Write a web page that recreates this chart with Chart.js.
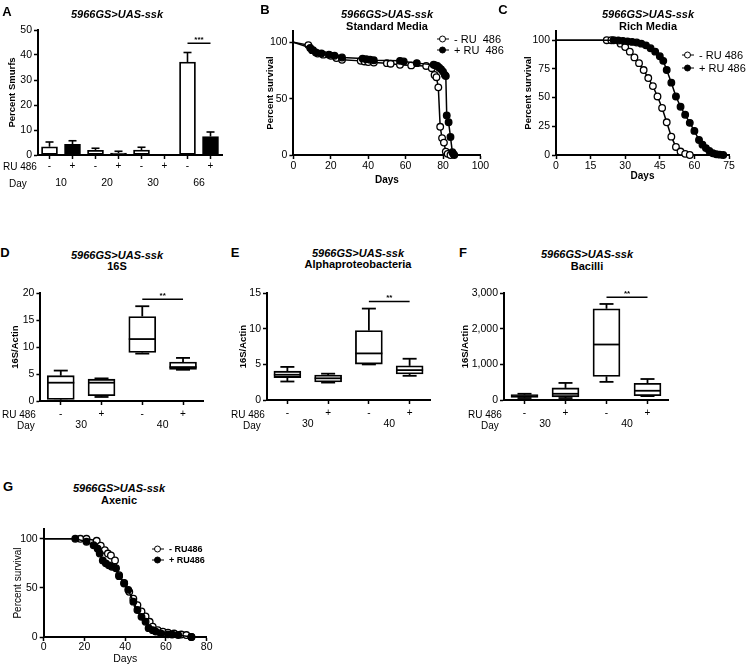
<!DOCTYPE html>
<html>
<head>
<meta charset="utf-8">
<script src="https://cdn.jsdelivr.net/npm/chart.js@4.4.1/dist/chart.umd.min.js"></script>
<style>
  body { margin: 0; width: 747px; height: 664px; overflow: hidden; background: #fff; position: relative;
         font-family: "Liberation Sans", Arial, sans-serif; color: #000; }
  .cv { position: absolute; }
  .t { position: absolute; white-space: pre; line-height: 1; transform: translate(-50%, -50%); }
  .tl { position: absolute; white-space: pre; line-height: 1; transform: translateY(-50%); }
  .it { font: italic bold 11px "Liberation Sans", Arial, sans-serif; }
  .sub { font: bold 11px "Liberation Sans", Arial, sans-serif; }
  .let { font: bold 13px "Liberation Sans", Arial, sans-serif; }
  .row { font: 10px "Liberation Sans", Arial, sans-serif; }
  .lg { position: absolute; display: flex; align-items: center; white-space: pre; line-height: 1; transform: translateY(-50%); }
  .mk { position: relative; width: 12px; height: 8px; margin-right: 5px; }
  .mk::before { content: ''; position: absolute; left: 0; right: 0; top: 3.5px; border-top: 1.5px solid #000; }
  .mk::after { content: ''; position: absolute; left: 2px; top: 0; width: 5px; height: 5px; border: 1.5px solid #000;
               border-radius: 50%; background: #fff; }
  .mk.fill::after { background: #000; }
</style>
</head>
<body>
<div class="cv" id="pA"><canvas id="cA"></canvas></div>
<div class="cv" id="pB"><canvas id="cB"></canvas></div>
<div class="cv" id="pC"><canvas id="cC"></canvas></div>
<div class="cv" id="pD"><canvas id="cD"></canvas></div>
<div class="cv" id="pE"><canvas id="cE"></canvas></div>
<div class="cv" id="pF"><canvas id="cF"></canvas></div>
<div class="cv" id="pG"><canvas id="cG"></canvas></div>

<div class="t let" style="left:7px;top:11px">A</div>
<div class="t let" style="left:265px;top:9px">B</div>
<div class="t let" style="left:503px;top:9px">C</div>
<div class="t let" style="left:5px;top:252px">D</div>
<div class="t let" style="left:235px;top:252px">E</div>
<div class="t let" style="left:463px;top:252px">F</div>
<div class="t let" style="left:8px;top:486px">G</div>

<div class="t it" style="left:117px;top:14px">5966GS&gt;UAS-ssk</div>
<div class="t it" style="left:387px;top:14px">5966GS&gt;UAS-ssk</div>
<div class="t sub" style="left:387px;top:26px">Standard Media</div>
<div class="t it" style="left:648px;top:14px">5966GS&gt;UAS-ssk</div>
<div class="t sub" style="left:648px;top:26px">Rich Media</div>
<div class="t it" style="left:117px;top:255px">5966GS&gt;UAS-ssk</div>
<div class="t sub" style="left:117px;top:266px">16S</div>
<div class="t it" style="left:358px;top:253px">5966GS&gt;UAS-ssk</div>
<div class="t sub" style="left:358px;top:264px">Alphaproteobacteria</div>
<div class="t it" style="left:587px;top:254px">5966GS&gt;UAS-ssk</div>
<div class="t sub" style="left:587px;top:266px">Bacilli</div>
<div class="t it" style="left:119px;top:488px">5966GS&gt;UAS-ssk</div>
<div class="t sub" style="left:119px;top:500px">Axenic</div>

<div class="tl row" style="left:3px;top:166px">RU 486</div>
<div class="tl row" style="left:9px;top:183px">Day</div>
<div class="tl row" style="left:2px;top:414px">RU 486</div>
<div class="tl row" style="left:17px;top:425px">Day</div>
<div class="tl row" style="left:231px;top:414px">RU 486</div>
<div class="tl row" style="left:243px;top:425px">Day</div>
<div class="tl row" style="left:468px;top:414px">RU 486</div>
<div class="tl row" style="left:481px;top:425px">Day</div>

<div class="lg" style="left:437px;top:39px;font-size:11px"><span class="mk"></span>- RU  486</div>
<div class="lg" style="left:437px;top:50px;font-size:11px"><span class="mk fill"></span>+ RU  486</div>
<div class="lg" style="left:682px;top:55px;font-size:11px"><span class="mk"></span>- RU 486</div>
<div class="lg" style="left:682px;top:68px;font-size:11px"><span class="mk fill"></span>+ RU 486</div>
<div class="lg" style="left:152px;top:549px;font-size:9px;font-weight:bold"><span class="mk"></span>- RU486</div>
<div class="lg" style="left:152px;top:560px;font-size:9px;font-weight:bold"><span class="mk fill"></span>+ RU486</div>

<script>
// ---- A: percent smurfs ----
const smurfRU = ['-', '+', '-', '+', '-', '+', '-', '+'];
const smurfDays = ['10', '20', '30', '66'];
const smurfMean = [3.3, 4.25, 1.9, 0.8, 2.0, 0, 37.2, 7.4];
const smurfErr = [1.9, 1.45, 0.8, 0.7, 1.1, 0, 3.8, 1.8];

// ---- B: survival, standard media ----
const bMinusDays = [0, 8, 10, 13, 16, 20, 23, 26, 36, 38, 40, 43, 50, 52, 57, 63, 71, 74, 75.5, 76.5, 77.5, 78.5, 79.5, 80.5, 81.5, 82.5, 84];
const bMinusSurv = [100, 97.5, 93, 90, 89, 88, 86, 84.5, 83.5, 83, 82.5, 82, 81.5, 81, 80, 79.5, 79, 77, 71, 69, 60, 25, 15, 11, 3, 1, 0];
const bPlusDays = [0, 9, 10.5, 12, 15, 19, 22, 26, 37, 39, 41, 43, 57, 59, 66, 75, 76, 77, 78, 79, 80, 81, 81.5, 82, 83, 84, 85, 85.5, 86];
const bPlusSurv = [100, 95, 93, 91, 90, 89, 88, 86.5, 85.5, 85, 84.5, 84, 83.5, 83, 81.5, 80, 79.5, 79, 77.5, 76, 74, 71, 70, 35, 29, 16, 2.5, 1, 0];

// ---- C: survival, rich media ----
const cMinusDays = [0, 22, 24, 28, 30, 32, 34, 36, 38, 40, 42, 44, 46, 48, 50, 52, 54, 56, 58];
const cMinusSurv = [100, 100, 100, 97, 94, 90, 85, 80, 74, 67, 60, 51, 41, 28.5, 16, 7, 3, 1, 0];
const cPlusDays = [0, 25, 27, 29, 31, 33, 35, 37, 39, 41, 43, 45, 46.5, 48, 50, 52, 54, 56, 58, 60, 62, 63.5, 65, 66.5, 68, 69.5, 71, 72.5];
const cPlusSurv = [100, 100, 99.7, 99.4, 99, 98.5, 98, 97, 95.5, 93, 90, 86, 82, 74, 63, 51, 42, 35, 28, 21, 13, 9, 6, 3.5, 1.5, 0.7, 0.3, 0];

// ---- D/E/F: box plots (min, q1, median, q3, max) ----
const boxRU = ['-', '+', '-', '+'];
const boxDays = ['30', '40'];
const dMin = [0.05, 0.75, 8.8, 5.8], dQ1 = [0.3, 1.0, 9.0, 5.85], dMed = [3.4, 3.4, 11.5, 6.3], dQ3 = [4.7, 4.05, 15.7, 7.25], dMax = [5.65, 4.2, 17.6, 8.0];
const eMin = [2.6, 2.45, 5.0, 3.4], eQ1 = [3.15, 2.55, 5.05, 3.65], eMed = [3.55, 3.05, 6.55, 4.2], eQ3 = [4.05, 3.5, 9.75, 4.8], eMax = [4.65, 3.7, 12.85, 5.8];
const fMin = [55, 55, 510, 110], fQ1 = [75, 90, 665, 120], fMed = [110, 175, 1560, 260], fQ3 = [150, 340, 2565, 470], fMax = [175, 480, 2700, 590];

// ---- G: survival, axenic ----
const gMinusDays = [0, 18, 21, 26, 28, 30, 31.5, 33, 35, 37, 39.5, 42, 44, 46, 48, 50, 52, 53.5, 56, 58.5, 61, 64, 67.5, 70, 72.5];
const gMinusSurv = [100, 100, 100, 98, 93, 88.5, 85, 83, 78, 63, 55, 46, 39, 32.5, 26, 21, 15.5, 10.5, 7, 5.5, 4.5, 3.5, 2.5, 2, 0];
const gPlusDays = [0, 15.5, 21, 24.5, 26.5, 27.5, 29, 30.5, 32, 33.5, 35.5, 37, 39.5, 41.5, 44, 46, 48, 50, 51.5, 53.5, 55, 57.5, 61, 63, 66, 72.5];
const gPlusSurv = [100, 100, 97, 93.5, 90, 85, 78, 75, 73, 71.5, 70, 62, 54.5, 48, 36, 27.5, 20.5, 15.5, 9, 7, 5.5, 3.5, 2.7, 2.5, 2, 0];

Chart.defaults.font.family = '"Liberation Sans", Arial, sans-serif';
Chart.defaults.font.size = 10;
Chart.defaults.color = '#000';

// put the canvas box on the page and work out axis sizes so the plot area lands where wanted
function place(id, cv, area) {
  const el = document.getElementById(id);
  el.style.left = cv.l + 'px';
  el.style.top = cv.t + 'px';
  el.style.width = cv.w + 'px';
  el.style.height = cv.h + 'px';
  return {
    yw: area.l - cv.l,
    pad: { top: area.t - cv.t, right: cv.l + cv.w - area.r, left: 0, bottom: 0 },
    xh: cv.t + cv.h - area.b
  };
}

function yAxis(yw, min, max, step, title, titleFont) {
  return {
    min: min, max: max,
    afterFit: s => { s.width = yw; },
    border: { color: '#000', width: 2 },
    grid: { drawOnChartArea: false, color: '#000', tickLength: 4, tickWidth: 1.5 },
    ticks: { stepSize: step, includeBounds: false, padding: 2, font: { size: 10.5 } },
    title: { display: true, text: title, font: titleFont, padding: { top: 4, bottom: 4 } }
  };
}

function xLinear(h, min, max, step, title, titleFont, pad) {
  return {
    type: 'linear', min: min, max: max,
    afterFit: s => { s.height = h; },
    border: { color: '#000', width: 2 },
    grid: { drawOnChartArea: false, color: '#000', tickLength: 4, tickWidth: 1.5 },
    ticks: { stepSize: step, padding: pad, font: { size: 10.5 }, maxRotation: 0 },
    title: { display: true, text: title, font: titleFont, padding: { top: 4, bottom: titleFont.weight === 'bold' ? 4 : 0 } }
  };
}

function xCats(labels, h, pad) {
  return {
    type: 'category', labels: labels, offset: true,
    afterFit: s => { s.height = h; },
    border: { color: '#000', width: 2 },
    grid: { drawOnChartArea: false, offset: false, color: '#000', tickLength: 4, tickWidth: 1.5 },
    ticks: { padding: pad, autoSkip: false, maxRotation: 0, font: { size: 10 } }
  };
}

function xGroups(labels, h) {
  return {
    type: 'category', labels: labels, offset: true, position: 'bottom', weight: 1,
    afterFit: s => { s.height = h; },
    border: { display: false },
    grid: { display: false, drawTicks: false },
    ticks: { padding: 2, autoSkip: false, maxRotation: 0, font: { size: 10.5 } }
  };
}

function line(ctx, x1, y1, x2, y2) {
  ctx.beginPath(); ctx.moveTo(x1, y1); ctx.lineTo(x2, y2); ctx.stroke();
}

// bracket between two categories with stars above it
function sigPlugin(i, j, v, stars) {
  return {
    id: 'sig',
    afterDatasetsDraw(chart) {
      const { ctx, scales: { x, y } } = chart;
      const py = y.getPixelForValue(v);
      ctx.save();
      ctx.strokeStyle = '#000'; ctx.lineWidth = 1.5;
      line(ctx, x.getPixelForValue(i), py, x.getPixelForValue(j), py);
      ctx.fillStyle = '#000';
      ctx.font = 'bold 8px "Liberation Sans", Arial, sans-serif';
      ctx.textAlign = 'center'; ctx.textBaseline = 'alphabetic';
      ctx.fillText(stars, (x.getPixelForValue(i) + x.getPixelForValue(j)) / 2, py - 1);
      ctx.restore();
    }
  };
}

// upper-only error bars for the smurf bars
function errPlugin(mean, err) {
  return {
    id: 'err',
    afterDatasetsDraw(chart) {
      const { ctx, scales: { x, y } } = chart;
      ctx.save();
      ctx.strokeStyle = '#000'; ctx.lineWidth = 1.6;
      mean.forEach((m, i) => {
        if (!err[i]) return;
        const cx = x.getPixelForValue(i);
        const top = y.getPixelForValue(m + err[i]);
        line(ctx, cx, y.getPixelForValue(m), cx, top);
        line(ctx, cx - 4, top, cx + 4, top);
      });
      ctx.restore();
    }
  };
}

// whiskers, caps and median lines on top of the floating-bar boxes
function whiskerPlugin(mn, q1, med, q3, mx, boxW) {
  return {
    id: 'whisk',
    afterDatasetsDraw(chart) {
      const { ctx, scales: { x, y } } = chart;
      ctx.save();
      ctx.strokeStyle = '#000'; ctx.lineWidth = 1.8;
      mn.forEach((v, i) => {
        const cx = x.getPixelForValue(i);
        const yMin = y.getPixelForValue(v), yMax = y.getPixelForValue(mx[i]);
        line(ctx, cx, y.getPixelForValue(q3[i]), cx, yMax);
        line(ctx, cx, y.getPixelForValue(q1[i]), cx, yMin);
        line(ctx, cx - 7, yMax, cx + 7, yMax);
        line(ctx, cx - 7, yMin, cx + 7, yMin);
        const ym = y.getPixelForValue(med[i]);
        line(ctx, cx - boxW / 2, ym, cx + boxW / 2, ym);
      });
      ctx.restore();
    }
  };
}

const baseOpts = {
  responsive: true, maintainAspectRatio: false, animation: false, devicePixelRatio: 1,
  plugins: { legend: { display: false }, tooltip: { enabled: false } }
};

const bold9 = { size: 9.5, weight: 'bold' };
const bold10 = { size: 10, weight: 'bold' };

// ---- A ----
(function () {
  const L = place('pA', { l: 3, t: 0, w: 232, h: 195 }, { l: 38, t: 30, r: 222, b: 155 });
  new Chart(document.getElementById('cA'), {
    type: 'bar',
    data: {
      datasets: [{
        data: smurfMean,
        backgroundColor: smurfRU.map(r => r === '+' ? '#000' : '#fff'),
        borderColor: '#000', borderWidth: 1.8, borderSkipped: false,
        barThickness: 16
      }]
    },
    options: Object.assign({}, baseOpts, {
      layout: { padding: L.pad },
      scales: {
        x: xCats(smurfRU, 20, 1),
        x2: xGroups(smurfDays, L.xh - 20),
        y: yAxis(L.yw, 0, 50, 10, 'Percent Smurfs', bold9)
      }
    }),
    plugins: [errPlugin(smurfMean, smurfErr), sigPlugin(6, 7, 44.7, '***')]
  });
})();

// ---- survival panels ----
function pts(days, surv) { return days.map((d, i) => ({ x: d, y: surv[i] })); }
function survSet(days, surv, fill) {
  return {
    data: pts(days, surv), borderColor: '#000', borderWidth: 1.5, tension: 0, clip: false,
    pointRadius: c => c.dataIndex === 0 ? 0 : 3.3,
    pointBackgroundColor: fill ? '#000' : '#fff', pointBorderColor: '#000', pointBorderWidth: 1.3
  };
}
function survival(pid, cid, cv, area, xr, yr, sets, yFont, xFont, xPad) {
  const L = place(pid, cv, area);
  new Chart(document.getElementById(cid), {
    type: 'line',
    data: { datasets: sets },
    options: Object.assign({}, baseOpts, {
      layout: { padding: L.pad },
      scales: {
        x: xLinear(L.xh, xr[0], xr[1], xr[2], 'Days', xFont, xPad),
        y: yAxis(L.yw, 0, yr[0], yr[1], 'Percent survival', yFont)
      }
    })
  });
}

survival('pB', 'cB', { l: 260.6, t: 0, w: 229.4, h: 190 }, { l: 293, t: 31, r: 480, b: 155 },
  [0, 100, 20], [110, 50],
  [survSet(bPlusDays, bPlusSurv, true), survSet(bMinusDays, bMinusSurv, false)], bold9, bold10, 1);

survival('pC', 'cC', { l: 519, t: 0, w: 221, h: 186 }, { l: 556, t: 31, r: 729, b: 155 },
  [0, 75, 15], [108, 25],
  [survSet(cPlusDays, cPlusSurv, true), survSet(cMinusDays, cMinusSurv, false)], bold9, bold10, 1);

survival('pG', 'cG', { l: 8.3, t: 515, w: 207, h: 150 }, { l: 44, t: 529, r: 207, b: 637 },
  [0, 80, 20], [110, 50],
  [survSet(gPlusDays, gPlusSurv, true), survSet(gMinusDays, gMinusSurv, false)],
  { size: 10, weight: 'normal' }, { size: 10.5, weight: 'normal' }, 0);

// ---- box plots ----
function boxPanel(pid, cid, cv, area, ymax, ystep, mn, q1, med, q3, mx, sigV) {
  const L = place(pid, cv, area);
  new Chart(document.getElementById(cid), {
    type: 'bar',
    data: {
      datasets: [{
        data: q1.map((v, i) => [v, q3[i]]),
        backgroundColor: '#fff', borderColor: '#000', borderWidth: 1.8, borderSkipped: false,
        barThickness: 27
      }]
    },
    options: Object.assign({}, baseOpts, {
      layout: { padding: L.pad },
      scales: {
        x: xCats(boxRU, 16, 3),
        x2: xGroups(boxDays, L.xh - 16),
        y: yAxis(L.yw, 0, ymax, ystep, '16S/Actin', bold9)
      }
    }),
    plugins: [whiskerPlugin(mn, q1, med, q3, mx, 27), sigPlugin(2, 3, sigV, '**')]
  });
}

boxPanel('pD', 'cD', { l: 5.6, t: 285, w: 205, h: 150 }, { l: 40, t: 292, r: 203, b: 401 },
  20, 5, dMin, dQ1, dMed, dQ3, dMax, 18.9);
boxPanel('pE', 'cE', { l: 234, t: 285, w: 204, h: 150 }, { l: 267, t: 292, r: 430, b: 400 },
  15, 5, eMin, eQ1, eMed, eQ3, eMax, 13.85);
boxPanel('pF', 'cF', { l: 456, t: 285, w: 220, h: 150 }, { l: 504, t: 292, r: 668, b: 400 },
  3000, 1000, fMin, fQ1, fMed, fQ3, fMax, 2890);
</script>
</body>
</html>
